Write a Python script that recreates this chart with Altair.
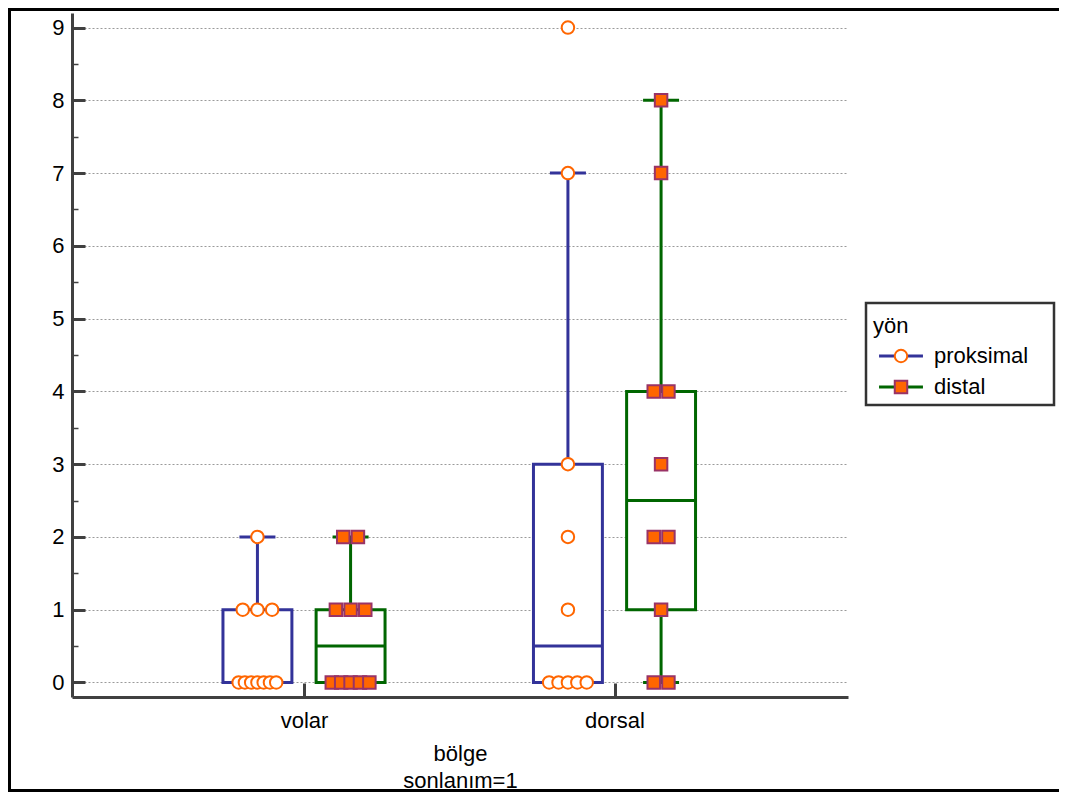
import json
import altair as alt
import pandas as pd

# ---------------- data ----------------
regions = ["volar", "dorsal"]
directions = ["proksimal", "distal"]

# individual observations per group
volar_proksimal = [0, 0, 0, 0, 0, 0, 0, 1, 1, 1, 2]
volar_distal = [0, 0, 0, 0, 0, 1, 1, 1, 2, 2]
dorsal_proksimal = [0, 0, 0, 0, 0, 1, 2, 3, 7, 9]
dorsal_distal = [0, 0, 1, 2, 2, 3, 4, 4, 7, 8]

# box summaries as drawn
box_region = ["volar", "volar", "dorsal", "dorsal"]
box_direction = ["proksimal", "distal", "proksimal", "distal"]
box_q1 = [0, 0, 0, 1]
box_median = [0, 0.5, 0.5, 2.5]
box_q3 = [1, 1, 3, 4]
box_low = [0, 0, 0, 0]
box_high = [2, 2, 7, 8]

y_major_ticks = [0, 1, 2, 3, 4, 5, 6, 7, 8, 9]
y_all_ticks = [0, 0.5, 1, 1.5, 2, 2.5, 3, 3.5, 4, 4.5, 5, 5.5, 6, 6.5, 7, 7.5, 8, 8.5, 9]
x_ticks = [1, 2]

line_colors = ["#333399", "#006600"]
marker_fill = ["white", "#FF6600"]
marker_stroke = ["#FF6600", "#993366"]
marker_shape = ["circle", "square"]

x_title = ["bölge", "sonlanım=1"]
legend_title = "yön"

# ---------------- styling / layout constants ----------------
W, H = 776, 684
X_DOMAIN = [0.2528, 2.752]
Y_DOMAIN = [-0.2, 9.2]
DODGE = 0.15      # offset of each direction from the group centre
BOX_HALF = 0.111  # half box width
CAP_HALF = 0.058  # half whisker-cap width
STEP = 0.0473     # max spacing of equal points
SPAN = 0.121      # max spread of equal points
FONT = "Liberation Sans"
FS = 22
AXIS_COLOR = "#404040"

# ---------------- tables ----------------
rows = []
for reg, d, vals in [("volar", "proksimal", volar_proksimal),
                     ("volar", "distal", volar_distal),
                     ("dorsal", "proksimal", dorsal_proksimal),
                     ("dorsal", "distal", dorsal_distal)]:
    for v in vals:
        rows.append({"bolge": reg, "yon_m": d, "deger": v})
points = pd.DataFrame(rows)

boxes = pd.DataFrame({
    "bolge": box_region, "yon": box_direction,
    "q1": box_q1, "med": box_median, "q3": box_q3,
    "lo": box_low, "hi": box_high,
})

REG = json.dumps(regions)


def xc_expr(field):
    return (f"indexof({REG}, datum.bolge) + 1 + "
            f"(datum.{field} === 'proksimal' ? -{DODGE} : {DODGE})")


xscale = alt.Scale(domain=X_DOMAIN, nice=False, zero=False)
yscale = alt.Scale(domain=Y_DOMAIN, nice=False, zero=False)

legend_common = dict(
    orient="none", legendX=794, legendY=290, title=legend_title,
    titleFont=FONT, titleFontSize=FS, titleFontWeight="normal", titleColor="black",
    titleBaseline="line-top", titleLineHeight=34, titlePadding=13,
    labelFont=FONT, labelFontSize=FS, labelColor="black",
    padding=7, rowPadding=9,
)
# line part of the legend (title and labels)
legend_line = alt.Legend(
    **legend_common,
    symbolType="M-2.44,0H2.44", symbolSize=324, symbolStrokeWidth=3,
    symbolOffset=17, labelOffset=22,
)
# marker part of the legend, drawn on top of the line part; carries the frame
legend_marker = alt.Legend(
    **legend_common, values=directions, titleOpacity=0,
    labelExpr="''", labelOffset=135,
    symbolSize=156, symbolStrokeWidth=2, symbolOffset=17,
    strokeColor="#333333",
)

color_enc = alt.Color("yon:N", scale=alt.Scale(domain=directions, range=line_colors),
                      legend=legend_line)

# marker scales list the categories in the opposite order so that their
# legend stays separate from the line legend (entries ordered via values)
rev_dirs = directions[::-1]

box_base = alt.Chart(boxes).transform_calculate(xc=xc_expr("yon")).transform_calculate(
    xl=f"datum.xc - {BOX_HALF}", xr=f"datum.xc + {BOX_HALF}",
    cl=f"datum.xc - {CAP_HALF}", cr=f"datum.xc + {CAP_HALF}",
)

main_x_axis = alt.Axis(
    orient="bottom", values=x_ticks,
    labelExpr=f"{REG}[datum.value - 1]",
    ticks=False, tickSize=0, domain=True, domainColor=AXIS_COLOR, domainWidth=3,
    labelFont=FONT, labelFontSize=FS, labelColor="black", labelPadding=30,
    labelBaseline="alphabetic", grid=False,
    title=x_title, titleFont=FONT, titleFontSize=FS, titleFontWeight="normal",
    titleColor="black", titleLineHeight=27, titleY=63, titleBaseline="alphabetic",
)
main_y_axis = alt.Axis(
    orient="left", values=y_major_ticks, ticks=False, tickSize=0,
    domain=True, domainColor=AXIS_COLOR, domainWidth=3,
    labelFont=FONT, labelFontSize=FS, labelColor="black", labelPadding=8,
    grid=True, gridDash=[2, 2], gridColor="#9a9a9a", gridWidth=1, title=None,
)
tick_x_axis = alt.Axis(
    orient="top", offset=-H, values=x_ticks, labels=False, domain=False, grid=False,
    ticks=True, tickSize=14, tickWidth=3, tickColor=AXIS_COLOR, title=None,
)
minor_test = "datum.value % 1 !== 0"
tick_y_axis = alt.Axis(
    orient="right", offset=-W, values=y_all_ticks, labels=False, domain=False, grid=False,
    ticks=True,
    tickSize={"condition": {"test": minor_test, "value": 6}, "value": 13},
    tickWidth={"condition": {"test": minor_test, "value": 1.5}, "value": 3},
    tickColor=AXIS_COLOR, title=None,
)

box = box_base.mark_rect(filled=False, fill="white", strokeWidth=3).encode(
    x=alt.X("xl:Q", scale=xscale, axis=main_x_axis),
    x2="xr:Q",
    y=alt.Y("q1:Q", scale=yscale, axis=main_y_axis),
    y2="q3:Q",
    color=color_enc,
)
median = box_base.mark_rule(strokeWidth=3).encode(
    x=alt.X("xl:Q", scale=xscale, axis=tick_x_axis),
    x2="xr:Q",
    y=alt.Y("med:Q", scale=yscale, axis=tick_y_axis),
    color=color_enc,
)
whisk_up = box_base.mark_rule(strokeWidth=3).encode(
    x=alt.X("xc:Q", scale=xscale, axis=None),
    y=alt.Y("q3:Q", scale=yscale, axis=None), y2="hi:Q",
    color=color_enc,
)
whisk_lo = box_base.mark_rule(strokeWidth=3).encode(
    x=alt.X("xc:Q", scale=xscale, axis=None),
    y=alt.Y("lo:Q", scale=yscale, axis=None), y2="q1:Q",
    color=color_enc,
)
cap_up = box_base.mark_rule(strokeWidth=3).encode(
    x=alt.X("cl:Q", scale=xscale, axis=None), x2="cr:Q",
    y=alt.Y("hi:Q", scale=yscale, axis=None),
    color=color_enc,
)
cap_lo = box_base.mark_rule(strokeWidth=3).encode(
    x=alt.X("cl:Q", scale=xscale, axis=None), x2="cr:Q",
    y=alt.Y("lo:Q", scale=yscale, axis=None),
    color=color_enc,
)

pts = alt.Chart(points).transform_joinaggregate(
    n="count()", groupby=["bolge", "yon_m", "deger"]
).transform_window(
    k="row_number()", groupby=["bolge", "yon_m", "deger"]
).transform_calculate(xc=xc_expr("yon_m")).transform_calculate(
    xp=f"datum.xc + (datum.k - (datum.n + 1) / 2) * min({STEP}, datum.n > 1 ? {SPAN} / (datum.n - 1) : {STEP})"
).mark_point(size=156, strokeWidth=2, opacity=1).encode(
    x=alt.X("xp:Q", scale=xscale, axis=None),
    y=alt.Y("deger:Q", scale=yscale, axis=None),
    shape=alt.Shape("yon_m:N", scale=alt.Scale(domain=rev_dirs, range=marker_shape[::-1]), legend=legend_marker),
    fill=alt.Fill("yon_m:N", scale=alt.Scale(domain=rev_dirs, range=marker_fill[::-1]), legend=legend_marker),
    stroke=alt.Stroke("yon_m:N", scale=alt.Scale(domain=rev_dirs, range=marker_stroke[::-1]), legend=legend_marker),
)

# outer frame of the figure
frame_top = alt.Chart(boxes).mark_rule(color="black", strokeWidth=3).encode(
    x=alt.value(-64), x2=alt.value(W + 211), y=alt.value(-3.5))
frame_left = alt.Chart(boxes).mark_rule(color="black", strokeWidth=3).encode(
    x=alt.value(-62.5), y=alt.value(-5), y2=alt.value(H + 95))
frame_bottom = alt.Chart(boxes).mark_rule(color="black", strokeWidth=3).encode(
    x=alt.value(-64), x2=alt.value(W + 211), y=alt.value(H + 93.5))

chart = alt.layer(
    box, median, whisk_up, whisk_lo, cap_up, cap_lo, pts,
    frame_top, frame_left, frame_bottom,
).resolve_axis(x="independent", y="independent").properties(
    width=W, height=H,
    autosize=alt.AutoSizeParams(type="none"),
    padding={"left": 64, "top": 5, "right": 211, "bottom": 95},
    background="white",
).configure(font=FONT).configure_view(stroke="transparent", strokeWidth=0).configure_legend(strokeWidth=2.5)

chart.save("out.html", embed_options={"renderer": "svg", "actions": False})
